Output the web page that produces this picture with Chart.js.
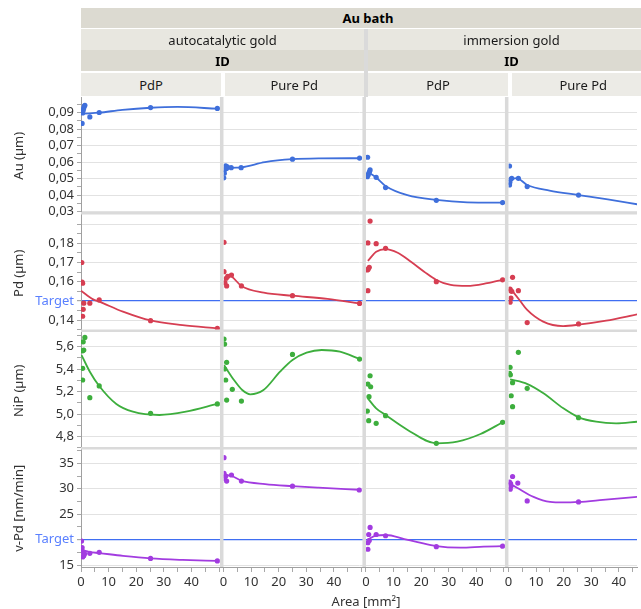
<!DOCTYPE html>
<html>
<head>
<meta charset="utf-8">
<script src="https://cdn.jsdelivr.net/npm/chart.js@4.4.1/dist/chart.umd.min.js"></script>
<style>
  html, body { margin:0; padding:0; background:#fff; overflow:hidden; }
  #wrap { position:relative; width:641px; height:609px; overflow:hidden; font-family:'Noto Sans', sans-serif; }
  canvas { position:absolute; left:0; top:0; }
  .hb { position:absolute; display:flex; align-items:center; justify-content:center; font-size:13px; color:#1a1a1a; white-space:nowrap; overflow:hidden; }
  .dark { background:#dcdad1; font-weight:bold; color:#000; }
  .light { background:#e8e7e0; }
  .pale { background:#ecebe6; }
  .gap { position:absolute; background:#dadada; }
  #xtitle { position:absolute; left:81px; width:570px; top:592px; text-align:center; font-size:13px; color:#333; }
</style>
</head>
<body>
<div id="wrap">
  <canvas id="c" width="641" height="609"></canvas>
  <div class="hb dark" style="left:81px;top:8px;width:574px;height:20px;">Au bath</div>
  <div class="hb light" style="left:81px;top:29px;width:283px;height:21px;">autocatalytic gold</div>
  <div class="hb light" style="left:368px;top:29px;width:287px;height:21px;">immersion gold</div>
  <div class="hb dark" style="left:81px;top:50px;width:283px;height:21px;">ID</div>
  <div class="hb dark" style="left:368px;top:50px;width:287px;height:21px;">ID</div>
  <div class="gap" style="left:364px;top:29px;width:4px;height:68px;"></div>
  <div class="hb pale" style="left:81px;top:73px;width:140px;height:23px;">PdP</div>
  <div class="hb pale" style="left:224.5px;top:73px;width:139.5px;height:23px;">Pure Pd</div>
  <div class="hb pale" style="left:368px;top:73px;width:140px;height:23px;">PdP</div>
  <div class="hb pale" style="left:511.5px;top:73px;width:143.5px;height:23px;">Pure Pd</div>
  <div id="xtitle">Area [mm²]</div>
</div>
<script>
// ---------- data ----------
const columns = ['autocatalytic gold · PdP', 'autocatalytic gold · Pure Pd', 'immersion gold · PdP', 'immersion gold · Pure Pd'];
const xTickValues = [0, 5, 10, 15, 20, 25, 30, 35, 40, 45, 50];
const xTickLabels = ['0', '', '10', '', '20', '', '30', '', '40', '', ''];

const auTickValues = [0.03, 0.04, 0.05, 0.06, 0.07, 0.08, 0.09];
const auTickLabels = ['0,03', '0,04', '0,05', '0,06', '0,07', '0,08', '0,09'];
const auMinorTicks = [0.035, 0.045, 0.055, 0.065, 0.075, 0.085, 0.095];

const pdTickValues = [0.14, 0.15, 0.16, 0.17, 0.18, 0.19];
const pdTickLabels = ['0,14', 'Target', '0,16', '0,17', '0,18', ''];
const pdMinorTicks = [0.135, 0.145, 0.155, 0.165, 0.175, 0.185];

const nipTickValues = [4.8, 5.0, 5.2, 5.4, 5.6];
const nipTickLabels = ['4,8', '5,0', '5,2', '5,4', '5,6'];
const nipMinorTicks = [4.7, 4.9, 5.1, 5.3, 5.5, 5.7];

const vpdTickValues = [15, 20, 25, 30, 35];
const vpdTickLabels = ['15', 'Target', '25', '30', '35'];
const vpdMinorTicks = [17.5, 22.5, 27.5, 32.5, 37.5];

const pdTarget = 0.15;
const vpdTarget = 20;

// measured points [area, value] for the 4 panels of each row
const auPoints = [
  [[0.4,0.0835],[0.6,0.0898],[0.8,0.0915],[1.0,0.0928],[1.2,0.0940],[1.4,0.0945],[3.2,0.0874],[6.6,0.0901],[25.2,0.0931],[49.4,0.0926]],
  [[0.1,0.0505],[0.3,0.0533],[0.5,0.0555],[0.8,0.0578],[1.1,0.0562],[1.4,0.0572],[2.8,0.0567],[6.4,0.0567],[25,0.0618],[49.3,0.0625]],
  [[0.6,0.0630],[0.5,0.0512],[0.8,0.0522],[1.0,0.0533],[1.3,0.0543],[1.5,0.0553],[3.7,0.0508],[7.1,0.0446],[25.5,0.0369],[49.5,0.0355]],
  [[0.4,0.0577],[0.4,0.0462],[0.5,0.0478],[0.8,0.0496],[1.2,0.0502],[3.6,0.0502],[6.8,0.0452],[25.4,0.0401]]
];
const pdPoints = [
  [[0.3,0.1700],[0.4,0.1598],[0.6,0.1592],[1.0,0.1488],[0.8,0.1456],[0.6,0.1420],[3.2,0.1488],[6.6,0.1505],[25.2,0.1397],[49.4,0.1357]],
  [[0.2,0.1805],[0.2,0.1652],[0.5,0.1595],[1.0,0.1618],[1.15,0.1578],[1.6,0.1628],[2.9,0.1635],[6.5,0.1578],[25,0.1527],[49.3,0.1487]],
  [[1.5,0.1916],[0.7,0.1802],[3.7,0.1798],[7.1,0.1774],[0.5,0.1661],[0.8,0.1665],[1.2,0.1675],[0.7,0.1553],[25.5,0.1600],[49.5,0.1610]],
  [[1.5,0.1623],[0.6,0.1562],[0.8,0.1553],[1.2,0.1550],[3.6,0.1553],[0.9,0.1514],[0.6,0.1493],[6.8,0.1387],[25.4,0.1380]]
];
const nipPoints = [
  [[0.8,5.644],[1.4,5.683],[0.6,5.564],[1.0,5.570],[0.6,5.408],[0.6,5.304],[3.2,5.147],[6.6,5.251],[25.2,5.008],[49.4,5.091]],
  [[0.2,5.668],[0.4,5.624],[1.15,5.461],[0.4,5.402],[0.8,5.304],[3.2,5.221],[1.15,5.126],[6.5,5.117],[25,5.532],[49.3,5.490]],
  [[1.5,5.342],[0.7,5.268],[1.7,5.244],[1.1,5.156],[0.5,5.028],[1.0,4.942],[3.7,4.919],[7.1,4.987],[25.5,4.741],[49.5,4.928]],
  [[0.6,5.417],[0.4,5.363],[0.7,5.350],[3.6,5.550],[1.5,5.280],[6.8,5.230],[1.0,5.164],[1.5,5.067],[25.4,4.969]]
];
const vpdPoints = [
  [[0.2,19.7],[0.4,18.4],[0.8,17.6],[0.6,16.6],[1.0,16.8],[1.3,17.2],[3.2,17.3],[6.6,17.5],[25.2,16.3],[49.4,15.8]],
  [[0.2,36.1],[0.2,33.0],[0.4,32.0],[1.15,31.5],[0.8,32.5],[2.9,32.7],[6.5,31.5],[25,30.5],[49.2,29.75]],
  [[1.5,22.4],[1.0,21.0],[3.7,21.0],[7.1,20.75],[0.7,19.4],[1.2,19.8],[0.7,18.1],[25.5,18.6],[49.5,18.7]],
  [[1.5,32.4],[0.4,31.3],[0.8,31.0],[0.65,29.9],[0.9,30.5],[3.4,31.1],[6.8,27.6],[25.4,27.4]]
];

// fitted smoothing curves
const auFit = [
  [[0.3,0.0894],[3.2,0.0896],[6.6,0.0900],[15,0.0917],[25.2,0.0930],[35,0.0935],[49.4,0.0924]],
  [[0.2,0.0548],[1.5,0.0562],[2.8,0.0566],[6.5,0.0569],[15,0.0600],[25,0.0618],[35,0.0623],[49.3,0.0624]],
  [[0.7,0.0540],[3.7,0.0507],[7.1,0.0456],[15,0.0400],[25.5,0.0371],[36.7,0.0357],[49.5,0.0355]],
  [[0.6,0.0496],[3.0,0.0503],[6.8,0.0462],[14.9,0.0428],[25.4,0.0401],[36,0.0374],[46.6,0.0345]]
];
const pdFit = [
  [[0.0,0.1553],[4.4,0.1508],[6.6,0.1496],[15.2,0.1444],[25.2,0.1398],[36.8,0.1374],[49.4,0.1357]],
  [[0.8,0.1635],[2.9,0.1627],[6.5,0.1578],[14.6,0.1543],[25,0.1527],[37.7,0.1510],[49.3,0.1487]],
  [[0.7,0.1708],[3.7,0.1756],[7.1,0.1770],[11.5,0.1751],[16.3,0.1704],[21.1,0.1652],[25.5,0.1609],[30.7,0.1583],[36.7,0.1578],[43.9,0.1592],[49.5,0.1610]],
  [[0.9,0.1562],[4.2,0.1501],[6.8,0.1453],[12.6,0.1392],[19.8,0.1369],[25.4,0.1376],[35.4,0.1397],[46.6,0.1430]]
];
const nipFit = [
  [[0.2,5.526],[3.2,5.378],[6.6,5.251],[12.8,5.091],[18.8,5.022],[28.4,4.993],[38,5.022],[49.4,5.091]],
  [[0.2,5.437],[3.8,5.304],[6.8,5.215],[9.7,5.177],[14.5,5.215],[20.5,5.378],[25,5.482],[30.1,5.547],[35.6,5.571],[42.2,5.556],[49.3,5.491]],
  [[0.7,5.141],[3.7,5.052],[7.1,4.993],[15.1,4.860],[25.5,4.741],[33.1,4.756],[41.5,4.824],[49.5,4.928]],
  [[0.6,5.310],[6.9,5.268],[12.7,5.186],[19.9,5.052],[25.5,4.972],[31.8,4.933],[39,4.919],[46.6,4.933]]
];
const vpdFit = [
  [[0.2,17.95],[3.2,17.55],[6.6,17.35],[15.2,16.8],[25.2,16.3],[36.8,16.0],[49.4,15.8]],
  [[0.2,32.7],[2.9,32.5],[6.5,31.6],[15.1,30.9],[24.9,30.5],[34.4,30.2],[49.1,29.8]],
  [[0.4,19.9],[3.7,20.8],[7.3,20.9],[13.9,20.1],[18.7,19.5],[25.5,18.7],[34.2,18.4],[42.6,18.6],[49.5,18.7]],
  [[0.1,31.1],[3.1,30.2],[9.1,28.4],[15.1,27.4],[19.9,27.3],[25.4,27.4],[34.2,27.8],[46.6,28.4]]
];

// ---------- layout / style ----------
Chart.defaults.font.family = "'Noto Sans', sans-serif";
Chart.defaults.font.size = 13;
Chart.defaults.color = '#333';

const TARGET_LINE = '#3f6ef2';
const TARGET_TEXT = '#5a80ff';
const COL_WEIGHTS = [143.5, 143.5, 143.5, 129.5];
const PX_PER_UNIT = 2.78;
const COL_GAP = 3.5, ROW_GAP = 2.5;

const rows = [
  { id:'yA', title:'Au (µm)', pts:auPoints, fit:auFit, min:0.0283, max:0.0995, major:auTickValues, labels:auTickLabels, minor:auMinorTicks, color:'#3f6fdb', target:null },
  { id:'yP', title:'Pd (µm)', pts:pdPoints, fit:pdFit, min:0.1338, max:0.1950, major:pdTickValues, labels:pdTickLabels, minor:pdMinorTicks, color:'#d63e52', target:pdTarget },
  { id:'yN', title:'NiP (µm)', pts:nipPoints, fit:nipFit, min:4.686, max:5.731, major:nipTickValues, labels:nipTickLabels, minor:nipMinorTicks, color:'#3dae3d', target:null },
  { id:'yV', title:'v-Pd [nm/min]', pts:vpdPoints, fit:vpdFit, min:14.61, max:37.71, major:vpdTickValues, labels:vpdTickLabels, minor:vpdMinorTicks, color:'#a23ce0', target:vpdTarget }
];

const near = (a, b) => Math.abs(a - b) < 1e-9;
const toXY = arr => arr.map(p => ({ x: p[0], y: p[1] }));

const datasets = [];
rows.forEach(r => {
  for (let c = 0; c < 4; c++) {
    datasets.push({ label: r.title + ' ' + columns[c], data: toXY(r.pts[c]), xAxisID: 'x' + c, yAxisID: r.id,
      showLine: false, pointRadius: 2.6, pointBorderWidth: 0, backgroundColor: r.color, borderColor: r.color });
  }
});
rows.forEach(r => {
  for (let c = 0; c < 4; c++) {
    datasets.push({ label: r.title + ' fit ' + columns[c], data: toXY(r.fit[c]), xAxisID: 'x' + c, yAxisID: r.id,
      showLine: true, pointRadius: 0, borderWidth: 1.8, borderColor: r.color, backgroundColor: r.color,
      cubicInterpolationMode: 'monotone' });
  }
});

const scales = {};
for (let c = 0; c < 4; c++) {
  const max = COL_WEIGHTS[c] / PX_PER_UNIT;
  scales['x' + c] = {
    type: 'linear', position: 'bottom', stack: 'cols', stackWeight: COL_WEIGHTS[c],
    min: 0, max: max,
    afterBuildTicks: s => { s.ticks = xTickValues.filter(v => v <= max).map(v => ({ value: v })); },
    afterFit: s => { s.height = 42; },
    ticks: { autoSkip: false, maxRotation: 0, padding: 2, color: '#333',
      callback: v => { const i = xTickValues.findIndex(t => near(t, v)); return i < 0 ? '' : xTickLabels[i]; } },
    grid: { drawOnChartArea: false, tickLength: 5, tickColor: '#a8a8a8' },
    border: { color: '#a0a0a0' }
  };
}
// bottom row defined first so that the top row ends up on top of the stack
[...rows].reverse().forEach(r => {
  scales[r.id] = {
    type: 'linear', position: 'left', stack: 'rows', stackWeight: 1,
    min: r.min, max: r.max,
    afterBuildTicks: s => { s.ticks = r.major.concat(r.minor).filter(v => v >= r.min && v <= r.max).sort((a, b) => a - b).map(v => ({ value: v })); },
    afterFit: s => { s.width = 81; },
    title: { display: true, text: r.title, color: '#333', font: { size: 13 }, padding: { top: 11, bottom: 0 } },
    ticks: { autoSkip: false, padding: 3,
      color: c => (r.target != null && c.tick && near(c.tick.value, r.target)) ? TARGET_TEXT : '#333',
      callback: v => { const i = r.major.findIndex(t => near(t, v)); return i < 0 ? '' : r.labels[i]; } },
    grid: { tickLength: 4, tickColor: '#a8a8a8',
      color: c => { if (!c.tick) return '#e2e2e2'; const v = c.tick.value;
        if (r.target != null && near(v, r.target)) return TARGET_LINE;
        return r.major.some(t => near(t, v)) ? '#e2e2e2' : 'rgba(0,0,0,0)'; },
      lineWidth: c => (c.tick && r.target != null && near(c.tick.value, r.target)) ? 1.2 : 1 },
    border: { color: '#a0a0a0' }
  };
});

const panelPlugin = {
  id: 'panels',
  beforeDatasetsDraw(chart) {
    const ctx = chart.ctx, a = chart.chartArea;
    ctx.save();
    ctx.fillStyle = '#dadada';
    ['x0', 'x1', 'x2'].forEach(id => { const s = chart.scales[id]; ctx.fillRect(s.right - COL_GAP, a.top, COL_GAP, a.bottom - a.top); });
    ['yA', 'yP', 'yN'].forEach(id => { const s = chart.scales[id]; ctx.fillRect(a.left, s.bottom - ROW_GAP, a.right - a.left, ROW_GAP); });
    ctx.restore();
  },
  beforeDatasetDraw(chart, args) {
    const ds = chart.data.datasets[args.index];
    const xs = chart.scales[ds.xAxisID], ys = chart.scales[ds.yAxisID];
    const cg = ds.xAxisID === 'x3' ? 0 : COL_GAP;
    const rg = ds.yAxisID === 'yV' ? 0 : ROW_GAP;
    const ctx = chart.ctx;
    ctx.save();
    ctx.beginPath();
    ctx.rect(xs.left, ys.top, xs.right - xs.left - cg, ys.bottom - ys.top - rg);
    ctx.clip();
  },
  afterDatasetDraw(chart) { chart.ctx.restore(); }
};

new Chart(document.getElementById('c'), {
  type: 'scatter',
  data: { datasets },
  options: {
    responsive: false, animation: false,
    layout: { padding: { top: 97, left: 0, right: 0, bottom: 0 } },
    plugins: { legend: { display: false }, tooltip: { enabled: false } },
    scales
  },
  plugins: [panelPlugin]
});
</script>
</body>
</html>
